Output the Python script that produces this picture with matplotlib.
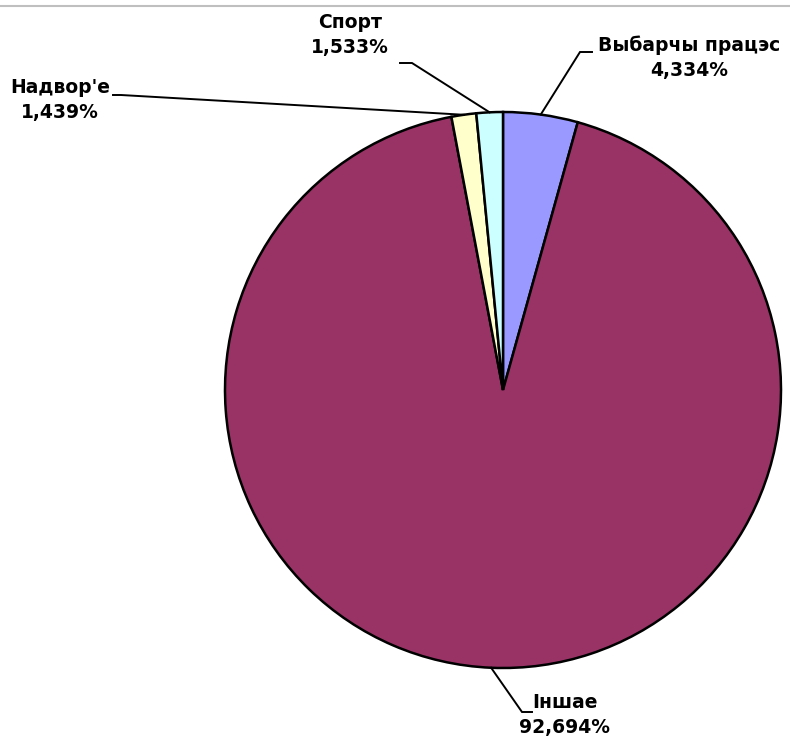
import matplotlib
matplotlib.use("Agg")
import matplotlib.pyplot as plt
import numpy as np

categories = ["Выбарчы працэс", "Іншае", "Надвор'е", "Спорт"]
values = [4.334, 92.694, 1.439, 1.533]
value_labels = ["4,334%", "92,694%", "1,439%", "1,533%"]
colors = ["#9999FF", "#993366", "#FFFFCC", "#CCFFFF"]

W, H = 790, 745
fig = plt.figure(figsize=(W / 100, H / 100), dpi=100)
ax = fig.add_axes([0, 0, 1, 1])
ax.set_xlim(0, W)
ax.set_ylim(0, H)
ax.set_aspect("equal")
ax.axis("off")

cx, cy, r = 503, H - 390, 278
wedges, _ = ax.pie(values, colors=colors, startangle=90, counterclock=False,
                   center=(cx, cy), radius=r, frame=True,
                   wedgeprops=dict(edgecolor="black", linewidth=1.8))
ax.set_xlim(0, W)
ax.set_ylim(0, H)
ax.axis("off")

# top grey rule
ax.plot([0, W], [H - 6, H - 6], color="#BFBFBF", lw=1.5, solid_capstyle="butt")

# label layout (text centre, stub start, stub end) in pixel coords (y from top)
layout = {
    "Выбарчы працэс": dict(text=(689, 58), stub=[(592, 52), (580, 52)]),
    "Іншае": dict(text=(565, 715), stub=[(532, 712), (522, 712)]),
    "Надвор'е": dict(text=(60, 100), stub=[(113, 95), (121, 95)]),
    "Спорт": dict(text=(350, 35), stub=[(400, 63), (412, 63)]),
}

for w, cat, lab in zip(wedges, categories, value_labels):
    ang = np.deg2rad((w.theta1 + w.theta2) / 2)
    ex, ey = cx + r * np.cos(ang), cy + r * np.sin(ang)
    L = layout[cat]
    (s0x, s0y), (s1x, s1y) = L["stub"]
    ax.plot([s0x, s1x, ex], [H - s0y, H - s1y, ey], color="black", lw=1.4,
            solid_joinstyle="miter")
    tx, ty = L["text"]
    ax.text(tx, H - ty, f"{cat}\n{lab}", ha="center", va="center",
            fontsize=13.5, fontweight="bold", family="DejaVu Sans",
            linespacing=1.4, color="black")

fig.savefig("out.png", dpi=100)
